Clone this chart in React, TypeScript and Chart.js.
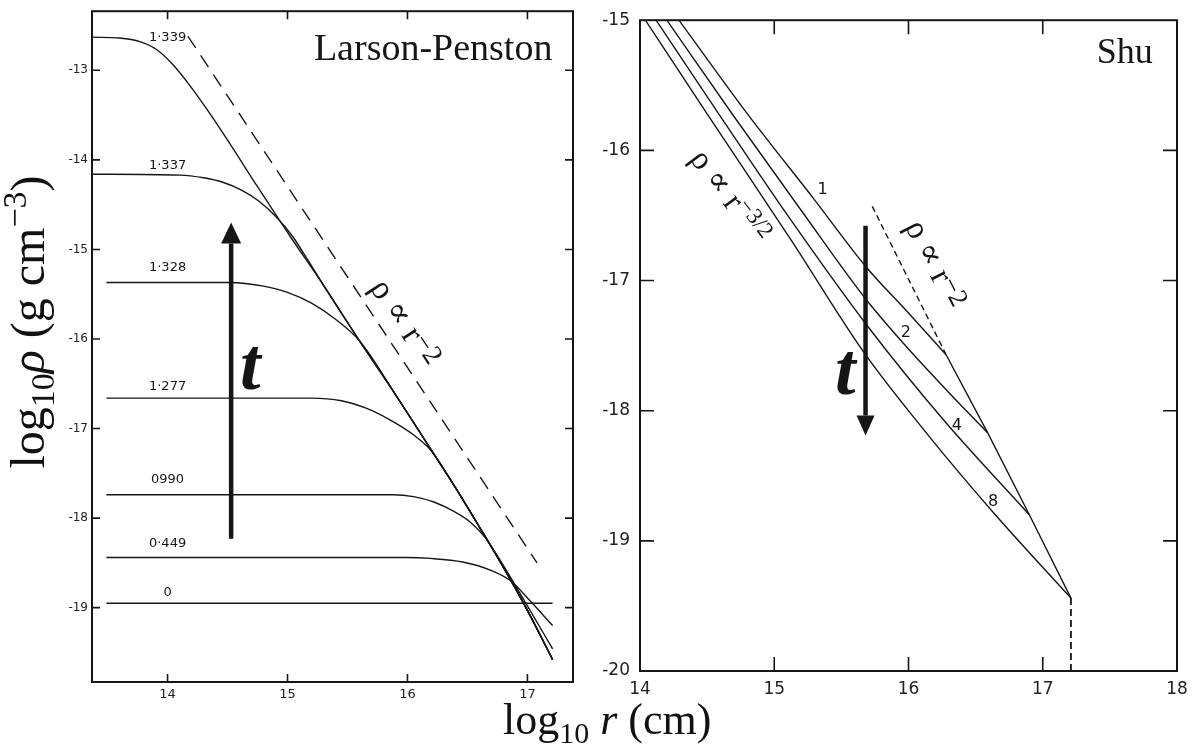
import React, { useEffect, useRef } from "react";
import { Chart, registerables } from "chart.js";

Chart.register(...registerables);

type Pt = [number, number];

// ---------------- Larson–Penston panel (left) ----------------
// time labels of the curves
const lpTimeLabels = ["1·339", "1·337", "1·328", "1·277", "0990", "0·449", "0"];
// common outer r^-2 envelope shared by the late-time curves (log r, log rho)
const lpEnvelope: Pt[] = [
  [15.3, -15.4], [15.6, -16.02], [15.9, -16.62], [16.16, -17.16], [16.4, -17.66],
  [16.6, -18.1], [16.8, -18.55], [17.0, -19.03], [17.21, -19.58],
];
const lp1339: Pt[] = [
  [13.37, -12.63], [13.6, -12.64], [13.77, -12.68], [13.91, -12.77], [14.04, -12.93],
  [14.18, -13.16], [14.33, -13.44], [14.5, -13.78], [14.75, -14.3], [15.02, -14.85],
];
const lp1337: Pt[] = [
  [13.37, -14.16], [14.1, -14.17], [14.3, -14.2], [14.46, -14.25], [14.62, -14.34],
  [14.76, -14.46], [14.9, -14.63], [15.04, -14.85], [15.17, -15.12],
];
const lp1328: Pt[] = [
  [13.49, -15.37], [14.5, -15.37], [14.65, -15.38], [14.8, -15.41], [15.0, -15.48],
  [15.2, -15.6], [15.4, -15.78], [15.6, -16.02],
];
const lp1277: Pt[] = [
  [13.49, -16.66], [15.2, -16.66], [15.45, -16.69], [15.65, -16.77], [15.85, -16.9],
  [16.05, -17.07], [16.2, -17.25],
];
const lp0990: Pt[] = [
  [13.49, -17.74], [15.88, -17.74], [16.05, -17.76], [16.22, -17.82], [16.38, -17.92],
  [16.52, -18.04], [16.65, -18.22], [16.8, -18.53], [17.0, -18.98], [17.21, -19.46],
];
const lp0449: Pt[] = [
  [13.49, -18.44], [16.0, -18.44], [16.19, -18.45], [16.46, -18.49], [16.69, -18.58],
  [16.86, -18.7], [17.02, -18.92], [17.21, -19.2],
];
const lp0: Pt[] = [[13.49, -18.95], [17.21, -18.95]];
const lpPowerLaw: Pt[] = [[14.17, -12.62], [17.08, -18.5]];
const lpXRange: Pt = [13.37, 17.38];
const lpYRange: Pt = [-19.83, -12.34];

// ---------------- Shu panel (right) ----------------
const shuTimeLabels = ["1", "2", "4", "8"];
const shuT1: Pt[] = [[14.29, -15.0], [14.8, -15.72], [15.3, -16.38], [15.68, -16.89], [16.0, -17.25], [16.28, -17.57]];
const shuT2: Pt[] = [[14.2, -15.0], [14.7, -15.74], [15.2, -16.46], [15.68, -17.14], [15.96, -17.48], [16.3, -17.86], [16.59, -18.17]];
const shuT4: Pt[] = [[14.12, -15.0], [14.6, -15.74], [15.1, -16.5], [15.68, -17.33], [16.26, -18.07], [16.9, -18.8]];
const shuT8: Pt[] = [[14.04, -15.0], [14.5, -15.72], [15.12, -16.68], [15.68, -17.57], [16.14, -18.18], [16.63, -18.78], [17.21, -19.44]];
const shuOuter: Pt[] = [[16.28, -17.57], [16.59, -18.17], [16.9, -18.8], [17.21, -19.44]];
const shuPowerLaw: Pt[] = [[15.73, -16.43], [16.28, -17.57]];
const shuCloudEdge: Pt[] = [[17.21, -19.44], [17.21, -20]];
const shuXRange: Pt = [14, 18];
const shuYRange: Pt = [-20, -15];

// ---------------- styling ----------------
const INK = "#161616";
const SERIF = '"Liberation Serif", "DejaVu Serif", serif';
const SANS = '"DejaVu Sans", "Liberation Sans", sans-serif';

function withEnvelope(head: Pt[]): Pt[] {
  const lastX = head[head.length - 1][0];
  return head.concat(lpEnvelope.filter((p) => p[0] > lastX + 0.1));
}

function lineDs(pts: Pt[], smooth: boolean, dash: number[] = [], width = 1.4): any {
  return {
    data: pts.map(([x, y]) => ({ x, y })),
    showLine: true,
    borderColor: INK,
    borderWidth: width,
    borderDash: dash,
    pointRadius: 0,
    pointHoverRadius: 0,
    fill: false,
    cubicInterpolationMode: smooth ? "monotone" : "default",
    tension: 0,
  };
}

type Seg = { t: string; size: number; dy?: number; italic?: boolean; bold?: boolean };

function drawRich(ctx: CanvasRenderingContext2D, segs: Seg[], cx: number, cy: number, angleDeg: number) {
  ctx.save();
  ctx.translate(cx, cy);
  ctx.rotate((angleDeg * Math.PI) / 180);
  ctx.textBaseline = "middle";
  ctx.textAlign = "left";
  const fontOf = (s: Seg) => `${s.italic ? "italic " : ""}${s.bold ? "bold " : ""}${s.size}px ${SERIF}`;
  const widths = segs.map((s) => {
    ctx.font = fontOf(s);
    return ctx.measureText(s.t).width;
  });
  let x = -widths.reduce((a, b) => a + b, 0) / 2;
  segs.forEach((s, i) => {
    ctx.font = fontOf(s);
    ctx.fillText(s.t, x, s.dy || 0);
    x += widths[i];
  });
  ctx.restore();
}

function drawArrow(ctx: CanvasRenderingContext2D, x: number, yTail: number, yTip: number, headLen: number, halfW: number) {
  const dir = yTip < yTail ? -1 : 1;
  const base = yTip - dir * headLen;
  ctx.save();
  ctx.strokeStyle = INK;
  ctx.fillStyle = INK;
  ctx.lineWidth = 4.5;
  ctx.beginPath();
  ctx.moveTo(x, yTail);
  ctx.lineTo(x, base);
  ctx.stroke();
  ctx.beginPath();
  ctx.moveTo(x, yTip);
  ctx.lineTo(x - halfW, base);
  ctx.lineTo(x + halfW, base);
  ctx.closePath();
  ctx.fill();
  ctx.restore();
}

function framePlugin(tickLen: number): any {
  return {
    id: "frameTicks",
    afterDatasetsDraw(chart: any) {
      const { ctx, chartArea: a, scales } = chart;
      const xs = scales.x;
      const ys = scales.y;
      ctx.save();
      ctx.strokeStyle = INK;
      ctx.lineWidth = 2;
      ctx.strokeRect(a.left, a.top, a.right - a.left, a.bottom - a.top);
      ctx.lineWidth = 1.6;
      ctx.beginPath();
      xs.ticks.forEach((t: any) => {
        const p = xs.getPixelForValue(t.value);
        if (p <= a.left + 2 || p >= a.right - 2) return;
        ctx.moveTo(p, a.bottom);
        ctx.lineTo(p, a.bottom - tickLen);
        ctx.moveTo(p, a.top);
        ctx.lineTo(p, a.top + tickLen);
      });
      ys.ticks.forEach((t: any) => {
        const p = ys.getPixelForValue(t.value);
        if (p <= a.top + 2 || p >= a.bottom - 2) return;
        ctx.moveTo(a.left, p);
        ctx.lineTo(a.left + tickLen, p);
        ctx.moveTo(a.right, p);
        ctx.lineTo(a.right - tickLen, p);
      });
      ctx.stroke();
      ctx.restore();
    },
  };
}

function baseOptions(
  xr: Pt, yr: Pt, pad: { top: number; right: number }, yWidth: number, xHeight: number,
  tickFontX: number, tickFontY: number, padX: number, padY: number
): any {
  return {
    responsive: false,
    animation: false,
    devicePixelRatio: 1,
    events: [],
    layout: { padding: { top: pad.top, right: pad.right, left: 0, bottom: 0 } },
    plugins: { legend: { display: false }, tooltip: { enabled: false } },
    scales: {
      x: {
        type: "linear",
        position: "bottom",
        min: xr[0],
        max: xr[1],
        afterFit: (s: any) => { s.height = xHeight; },
        grid: { display: false, drawTicks: false },
        border: { display: false },
        ticks: {
          stepSize: 1, includeBounds: false, autoSkip: false, maxRotation: 0,
          padding: padX, color: "#222", font: { family: SANS, size: tickFontX },
          callback: (v: any) => String(v),
        },
      },
      y: {
        type: "linear",
        position: "left",
        min: yr[0],
        max: yr[1],
        afterFit: (s: any) => { s.width = yWidth; },
        grid: { display: false, drawTicks: false },
        border: { display: false },
        ticks: {
          stepSize: 1, includeBounds: false, autoSkip: false,
          padding: padY, color: "#222", font: { family: SANS, size: tickFontY },
          callback: (v: any) => String(v),
        },
      },
    },
  };
}

// annotation anchors (data coordinates)
const lpLabelAnchors: Pt[] = [
  [14.0, -12.63], [14.0, -14.06], [14.0, -15.2], [14.0, -16.53], [14.0, -17.57], [14.0, -18.29], [14.0, -18.83],
];
const shuLabelAnchors: Pt[] = [[15.36, -16.3], [15.98, -17.4], [16.36, -18.12], [16.63, -18.7]];

const lpAnnotPlugin: any = {
  id: "lpAnnot",
  afterDatasetsDraw(chart: any) {
    const { ctx } = chart;
    const X = (v: number) => chart.scales.x.getPixelForValue(v);
    const Y = (v: number) => chart.scales.y.getPixelForValue(v);
    ctx.save();
    ctx.fillStyle = INK;
    ctx.font = `13px ${SANS}`;
    ctx.textAlign = "center";
    ctx.textBaseline = "middle";
    lpTimeLabels.forEach((t, i) => ctx.fillText(t, X(lpLabelAnchors[i][0]), Y(lpLabelAnchors[i][1])));
    ctx.font = `38px ${SERIF}`;
    ctx.textAlign = "left";
    ctx.textBaseline = "alphabetic";
    ctx.fillText("Larson-Penston", X(15.22), Y(-12.88));
    ctx.font = `italic bold 74px ${SERIF}`;
    ctx.textAlign = "center";
    ctx.fillText("t", X(14.69), Y(-16.56));
    ctx.restore();
    drawArrow(ctx, X(14.53), Y(-18.23), Y(-14.7), 21, 10);
    ctx.save();
    ctx.fillStyle = INK;
    drawRich(ctx, [{ t: "ρ ∝ r", size: 34 }, { t: "−2", size: 28, dy: -5 }], X(15.97), Y(-15.83), 56.5);
    ctx.restore();
  },
};

const shuAnnotPlugin: any = {
  id: "shuAnnot",
  afterDatasetsDraw(chart: any) {
    const { ctx } = chart;
    const X = (v: number) => chart.scales.x.getPixelForValue(v);
    const Y = (v: number) => chart.scales.y.getPixelForValue(v);
    ctx.save();
    ctx.fillStyle = INK;
    ctx.font = `16px ${SANS}`;
    ctx.textAlign = "center";
    ctx.textBaseline = "middle";
    shuTimeLabels.forEach((t, i) => ctx.fillText(t, X(shuLabelAnchors[i][0]), Y(shuLabelAnchors[i][1])));
    ctx.font = `36px ${SERIF}`;
    ctx.textAlign = "right";
    ctx.textBaseline = "alphabetic";
    ctx.fillText("Shu", X(17.82), Y(-15.33));
    ctx.font = `italic bold 74px ${SERIF}`;
    ctx.textAlign = "center";
    ctx.fillText("t", X(15.53), Y(-17.87));
    ctx.restore();
    drawArrow(ctx, X(15.68), Y(-16.58), Y(-18.19), 20, 9);
    ctx.save();
    ctx.fillStyle = INK;
    drawRich(ctx, [{ t: "ρ ∝ r", size: 33 }, { t: "−2", size: 27, dy: -5 }], X(16.19), Y(-16.88), 63);
    drawRich(ctx, [{ t: "ρ ∝ r", size: 33 }, { t: "−3/2", size: 23, dy: -8 }], X(14.66), Y(-16.36), 53);
    ctx.restore();
  },
};

function leftConfig(): any {
  return {
    type: "scatter",
    data: {
      datasets: [
        lineDs(withEnvelope(lp1339), true),
        lineDs(withEnvelope(lp1337), true),
        lineDs(withEnvelope(lp1328), true),
        lineDs(withEnvelope(lp1277), true),
        lineDs(lp0990, true),
        lineDs(lp0449, true),
        lineDs(lp0, false),
        lineDs(lpPowerLaw, false, [14, 9]),
      ],
    },
    options: baseOptions(lpXRange, lpYRange, { top: 8, right: 17 }, 92, 69, 13, 12, 5, 4),
    plugins: [framePlugin(8), lpAnnotPlugin],
  };
}

function rightConfig(): any {
  return {
    type: "scatter",
    data: {
      datasets: [
        lineDs(shuT1, true),
        lineDs(shuT2, true),
        lineDs(shuT4, true),
        lineDs(shuT8, true),
        lineDs(shuOuter, false),
        lineDs(shuPowerLaw, false, [6, 4]),
        lineDs(shuCloudEdge, false, [7, 4], 1.8),
      ],
    },
    options: baseOptions(shuXRange, shuYRange, { top: 11, right: 23 }, 50, 80, 17, 17, 8, 10),
    plugins: [framePlugin(14), shuAnnotPlugin],
  };
}

export default function App() {
  const leftRef = useRef<HTMLCanvasElement>(null);
  const rightRef = useRef<HTMLCanvasElement>(null);

  useEffect(() => {
    const c1 = new Chart(leftRef.current as HTMLCanvasElement, leftConfig());
    const c2 = new Chart(rightRef.current as HTMLCanvasElement, rightConfig());
    return () => {
      c1.destroy();
      c2.destroy();
    };
  }, []);

  const titleFont = `"Liberation Serif", "DejaVu Serif", serif`;
  return (
    <div style={{ position: "absolute", left: 0, top: 0, width: 1200, height: 751, background: "#fff", overflow: "hidden" }}>
      <canvas ref={leftRef} width={590} height={751} style={{ position: "absolute", left: 0, top: 0 }} />
      <canvas ref={rightRef} width={610} height={751} style={{ position: "absolute", left: 590, top: 0 }} />
      <div
        style={{
          position: "absolute", left: 503, top: 695, height: 50, lineHeight: "50px",
          fontFamily: titleFont, fontSize: 44, color: "#111", whiteSpace: "nowrap",
        }}
      >
        log<span style={{ fontSize: 30, position: "relative", top: 9 }}>10</span>
        {" "}<i>r</i> (cm)
      </div>
      <div
        style={{
          position: "absolute", left: 28 - 220, top: 322 - 25, width: 440, height: 50, lineHeight: "50px",
          textAlign: "center", transform: "rotate(-90deg)",
          fontFamily: titleFont, fontSize: 48, color: "#111", whiteSpace: "nowrap",
        }}
      >
        log<span style={{ fontSize: 34, position: "relative", top: 10 }}>10</span>
        <i>ρ</i> (g cm<span style={{ fontSize: 34, position: "relative", top: -18 }}>−3</span>)
      </div>
    </div>
  );
}
